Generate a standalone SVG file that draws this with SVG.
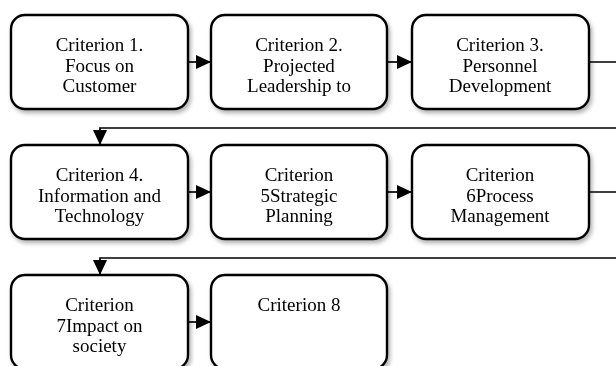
<svg xmlns="http://www.w3.org/2000/svg" width="616" height="366" viewBox="0 0 616 366">
<style>
.box{fill:#fff;stroke:#000;stroke-width:2.4}
.lbl{font-family:"Liberation Serif","Times New Roman",serif;font-size:19px;fill:#000;text-anchor:middle}
.con{fill:none;stroke:#000;stroke-width:1.7}
</style>
<defs>
<filter id="sh" x="-10%" y="-10%" width="125%" height="130%">
<feDropShadow dx="2" dy="3" stdDeviation="2" flood-color="#000" flood-opacity="0.3"/>
</filter>
<marker id="ah" viewBox="0 0 15 14" refX="15" refY="7" markerWidth="15" markerHeight="14" markerUnits="userSpaceOnUse" orient="auto">
<path d="M0,0 L15,7 L0,14 Z" fill="#000"/>
</marker>
</defs>
<rect width="616" height="366" fill="#fff"/>
<g id="connectors">
<path class="con" d="M188,62 H211" marker-end="url(#ah)"/>
<path class="con" d="M387,62 H412" marker-end="url(#ah)"/>
<path class="con" d="M589,62 H630 V128 H100 V145" marker-end="url(#ah)"/>
<path class="con" d="M188,192 H211" marker-end="url(#ah)"/>
<path class="con" d="M387,192 H412" marker-end="url(#ah)"/>
<path class="con" d="M589,192 H630 V258 H100 V275" marker-end="url(#ah)"/>
<path class="con" d="M188,322 H211" marker-end="url(#ah)"/>
</g>
<g id="c1" filter="url(#sh)">
<rect class="box" x="11" y="15" width="177" height="94" rx="14"/>
<text class="lbl" x="99.5" y="51">Criterion 1.</text>
<text class="lbl" x="99.5" y="71.5">Focus on</text>
<text class="lbl" x="99.5" y="92">Customer</text>
</g>
<g id="c2" filter="url(#sh)">
<rect class="box" x="211" y="15" width="176" height="94" rx="14"/>
<text class="lbl" x="299" y="51">Criterion 2.</text>
<text class="lbl" x="299" y="71.5">Projected</text>
<text class="lbl" x="299" y="92">Leadership to</text>
</g>
<g id="c3" filter="url(#sh)">
<rect class="box" x="412" y="15" width="177" height="94" rx="14"/>
<text class="lbl" x="500" y="51">Criterion 3.</text>
<text class="lbl" x="500" y="71.5">Personnel</text>
<text class="lbl" x="500" y="92">Development</text>
</g>
<g id="c4" filter="url(#sh)">
<rect class="box" x="11" y="145" width="177" height="94" rx="14"/>
<text class="lbl" x="99.5" y="181">Criterion 4.</text>
<text class="lbl" x="99.5" y="201.5">Information and</text>
<text class="lbl" x="99.5" y="222">Technology</text>
</g>
<g id="c5" filter="url(#sh)">
<rect class="box" x="211" y="145" width="176" height="94" rx="14"/>
<text class="lbl" x="299" y="181">Criterion</text>
<text class="lbl" x="299" y="201.5">5Strategic</text>
<text class="lbl" x="299" y="222">Planning</text>
</g>
<g id="c6" filter="url(#sh)">
<rect class="box" x="412" y="145" width="177" height="94" rx="14"/>
<text class="lbl" x="500" y="181">Criterion</text>
<text class="lbl" x="500" y="201.5">6Process</text>
<text class="lbl" x="500" y="222">Management</text>
</g>
<g id="c7" filter="url(#sh)">
<rect class="box" x="11" y="275" width="177" height="94" rx="14"/>
<text class="lbl" x="99.5" y="311">Criterion</text>
<text class="lbl" x="99.5" y="331.5">7Impact on</text>
<text class="lbl" x="99.5" y="352">society</text>
</g>
<g id="c8" filter="url(#sh)">
<rect class="box" x="211" y="275" width="176" height="94" rx="14"/>
<text class="lbl" x="299" y="311">Criterion 8</text>
</g>
</svg>
